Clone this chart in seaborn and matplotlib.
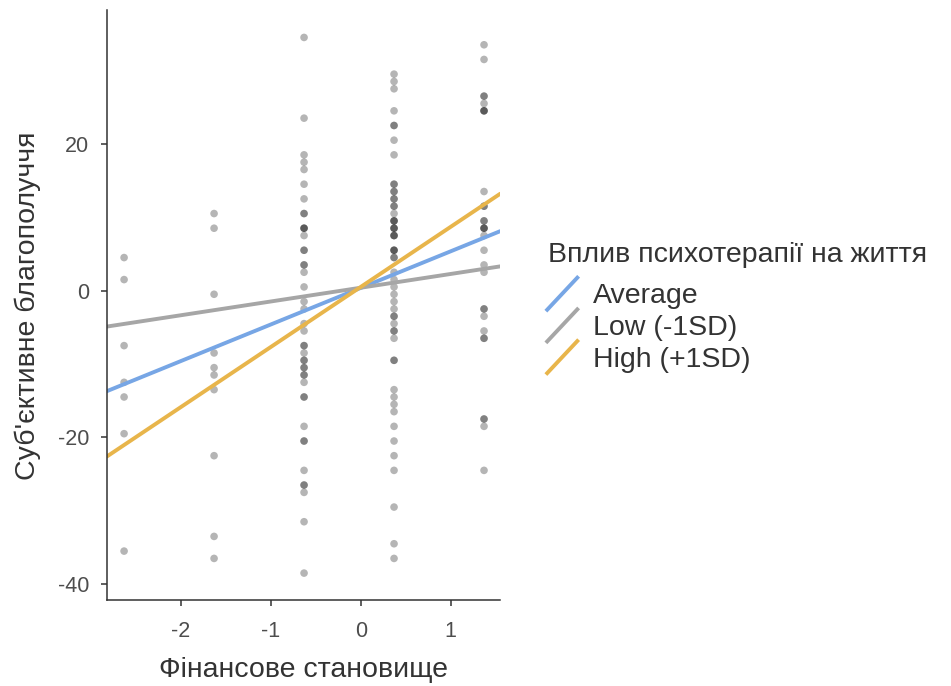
import numpy as np
import pandas as pd
import matplotlib
matplotlib.use('Agg')
import matplotlib.pyplot as plt
import seaborn as sns
from matplotlib.lines import Line2D
from matplotlib.legend_handler import HandlerBase

# observed points: one list of y values per x level (centred finance score)
x_levels = [-2.63, -1.63, -0.63, 0.37, 1.37]
y_col1 = [4.5, 1.5, -7.5, -12.5, -14.5, -19.5, -35.5]
y_col2 = [10.5, 8.5, -0.5, -8.5, -10.5, -11.5, -13.5, -22.5, -33.5, -36.5]
y_col3 = [34.5, 23.5, 18.5, 17.5, 16.5, 14.5, 12.5, 10.5, 10.5, 8.5, 8.5, 8.5,
          7.5, 5.5, 5.5, 3.5, 3.5, 2.5, 0.5, -1.5, -2.5, -4.5, -5.5, -7.5, -7.5,
          -8.5, -9.5, -9.5, -10.5, -10.5, -11.5, -11.5, -12.5, -14.5, -14.5,
          -18.5, -20.5, -20.5, -24.5, -26.5, -26.5, -27.5, -31.5, -38.5]
y_col4 = [29.5, 28.5, 27.5, 24.5, 22.5, 22.5, 20.5, 18.5, 14.5, 14.5, 13.5, 13.5,
          12.5, 12.5, 11.5, 11.5, 10.5, 9.5, 9.5, 9.5, 8.5, 8.5, 8.5, 7.5, 7.5,
          7.5, 5.5, 5.5, 5.5, 4.5, 4.5, 2.5, 1.5, 0.5, -0.5, -1.5, -2.5, -3.5,
          -3.5, -4.5, -5.5, -5.5, -6.5, -9.5, -9.5, -13.5, -14.5, -15.5, -16.5,
          -18.5, -20.5, -22.5, -24.5, -29.5, -34.5, -36.5]
y_col5 = [33.5, 31.5, 26.5, 26.5, 25.5, 24.5, 24.5, 24.5, 13.5, 11.5, 11.5, 9.5,
          9.5, 8.5, 8.5, 8.5, 7.5, 5.5, 3.5, 2.5, -2.5, -2.5, -3.5, -5.5, -6.5,
          -6.5, -17.5, -17.5, -18.5, -24.5]

# predicted lines at the ends of the x range
line_x = [-2.82, 1.55]
line_groups = ['Average', 'Low (-1SD)', 'High (+1SD)']
line_y = {
    'Average': [-13.7, 8.1],
    'Low (-1SD)': [-4.9, 3.3],
    'High (+1SD)': [-22.6, 13.2],
}
line_colors = ['#77a6e5', '#a6a6a6', '#e8b54b']

cols = [y_col1, y_col2, y_col3, y_col4, y_col5]
points = pd.DataFrame({
    'x': np.concatenate([[xv] * len(c) for xv, c in zip(x_levels, cols)]),
    'y': np.concatenate(cols),
})
lines = pd.DataFrame([
    {'x': xv, 'y': yv, 'group': g}
    for g in line_groups for xv, yv in zip(line_x, line_y[g])
])


class DiagonalHandler(HandlerBase):
    # ggplot style abline key
    def create_artists(self, legend, orig_handle, xdescent, ydescent,
                       width, height, fontsize, trans):
        ln = Line2D([0, width], [-0.4 * height, 1.35 * height],
                    color=orig_handle.get_color(),
                    lw=orig_handle.get_linewidth(),
                    solid_capstyle='butt')
        ln.set_transform(trans)
        return [ln]


sns.set_style('ticks')
plt.rcParams['font.family'] = ['Liberation Sans', 'DejaVu Sans']

fig = plt.figure(figsize=(9.51, 6.86), dpi=100)
ax = fig.add_axes([0.1125, 0.125, 0.4135, 0.86])

sns.scatterplot(data=points, x='x', y='y', ax=ax, color='black',
                alpha=0.29, s=30, edgecolor='none', legend=False)
sns.lineplot(data=lines, x='x', y='y', hue='group', hue_order=line_groups,
             palette=line_colors, linewidth=2.8, ax=ax, legend=False)

ax.set_xlim(-2.82, 1.55)
ax.set_ylim(-42.2, 38.2)
ax.set_xticks([-2, -1, 0, 1])
ax.set_yticks([-40, -20, 0, 20])
ax.set_xticklabels(['-2', '-1', '0', '1'])
ax.set_yticklabels(['-40', '-20', '0', '20'])
ax.tick_params(colors='#333333', labelcolor='#4d4d4d', labelsize=15.5,
               length=4.5, width=1.1)
ax.tick_params(axis='x', pad=10.5)
ax.tick_params(axis='y', pad=8.5)
for s in ['top', 'right']:
    ax.spines[s].set_visible(False)
for s in ['left', 'bottom']:
    ax.spines[s].set_color('#333333')
    ax.spines[s].set_linewidth(1.1)

ax.set_xlabel('Фінансове становище', fontsize=20.5, color='#333333', labelpad=10.5)
ax.set_ylabel("Суб'єктивне благополуччя", fontsize=20.5, color='#333333', labelpad=12)

fig.text(0.576, 0.6185, 'Вплив психотерапії на життя', fontsize=20.5,
         color='#333333', ha='left', va='baseline')
handles = [Line2D([], [], color=c, lw=2.8) for c in line_colors]
leg = fig.legend(handles, line_groups, loc='upper left',
                 bbox_to_anchor=(0.574, 0.5872), frameon=False,
                 fontsize=20.5, handlelength=1.15, handletextpad=0.5,
                 labelspacing=0.2, borderpad=0, borderaxespad=0,
                 handler_map={Line2D: DiagonalHandler()})
for t in leg.get_texts():
    t.set_color('#333333')

fig.savefig('out.png', dpi=100)
